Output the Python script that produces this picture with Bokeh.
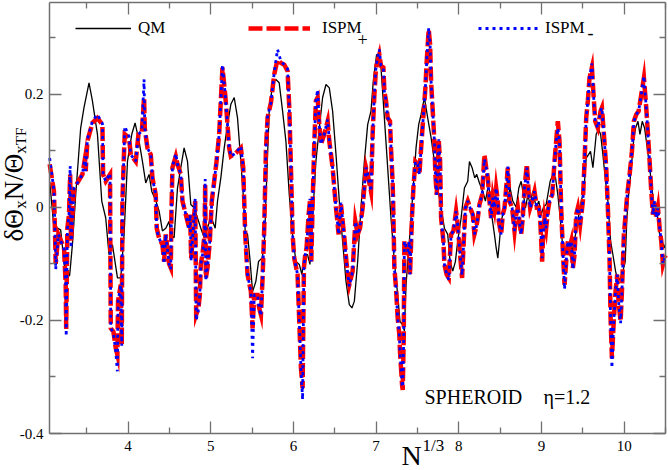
import math
from bokeh.plotting import figure
from bokeh.models import Range1d, LinearAxis, FixedTicker, Label, Legend, LegendItem
from bokeh.embed import file_html
from bokeh.resources import INLINE

# ---------------- data ----------------
qm_x = [
    3.052, 3.104, 3.145, 3.185, 3.225, 3.246, 3.294, 3.327, 3.367, 3.427,
    3.467, 3.528, 3.569, 3.630, 3.682, 3.730, 3.770, 3.811, 3.872, 3.912,
    3.952, 3.993, 4.045, 4.085, 4.133, 4.174, 4.214, 4.254, 4.287, 4.335,
    4.376, 4.416, 4.456, 4.497, 4.517, 4.557, 4.598, 4.638, 4.678, 4.719,
    4.759, 4.799, 4.840, 4.880, 4.921, 4.961, 5.001, 5.054, 5.082, 5.122,
    5.163, 5.203, 5.243, 5.284, 5.324, 5.364, 5.393, 5.417, 5.445, 5.473,
    5.506, 5.546, 5.578, 5.619, 5.647, 5.667, 5.707, 5.748, 5.788, 5.828,
    5.869, 5.909, 5.950, 5.990, 6.030, 6.071, 6.103, 6.131, 6.171, 6.200,
    6.232, 6.272, 6.313, 6.353, 6.394, 6.434, 6.474, 6.515, 6.555, 6.595,
    6.636, 6.676, 6.708, 6.737, 6.777, 6.817, 6.858, 6.898, 6.938, 6.966,
    7.006, 7.039, 7.059, 7.100, 7.140, 7.180, 7.221, 7.261, 7.289, 7.322,
    7.342, 7.362, 7.402, 7.443, 7.483, 7.515, 7.544, 7.584, 7.624, 7.665,
    7.705, 7.745, 7.786, 7.826, 7.866, 7.895, 7.927, 7.959, 7.987, 8.028,
    8.068, 8.108, 8.129, 8.161, 8.193, 8.217, 8.250, 8.290, 8.322, 8.351,
    8.371, 8.403, 8.431, 8.452, 8.472, 8.492, 8.512, 8.553, 8.593, 8.621,
    8.653, 8.694, 8.726, 8.754, 8.782, 8.807, 8.835, 8.863, 8.895, 8.936,
    8.968, 8.996, 9.025, 9.057, 9.077, 9.105, 9.138, 9.170, 9.198, 9.226,
    9.259, 9.291, 9.319, 9.348, 9.372, 9.412, 9.452, 9.481, 9.501, 9.521,
    9.541, 9.569, 9.593, 9.622, 9.642, 9.662, 9.690, 9.715, 9.743, 9.771,
    9.803, 9.836, 9.864, 9.896, 9.924, 9.957, 9.985, 10.013, 10.033, 10.054,
    10.086, 10.114, 10.138, 10.167, 10.191, 10.219, 10.247, 10.280, 10.308, 10.336,
    10.368, 10.401, 10.429, 10.457, 10.489, 10.500,
]
qm_y = [
    0.046, -0.037, -0.037, -0.040, -0.096, -0.128, -0.120, -0.066, 0.022, 0.140,
    0.176, 0.220, 0.188, 0.129, 0.011, -0.019, -0.084, -0.066, -0.125, -0.125,
    -0.048, 0.081, 0.129, 0.149, 0.117, 0.081, 0.043, 0.058, 0.028, 0.012,
    -0.007, -0.042, -0.037, -0.025, -0.048, -0.054, 0.034, 0.070, 0.105, 0.081,
    0.005, -0.001, -0.019, -0.037, -0.054, -0.037, -0.016, -0.037, 0.011, 0.052,
    0.105, 0.146, 0.182, 0.194, 0.158, 0.081, 0.022, -0.042, -0.048, -0.090,
    -0.149, -0.131, -0.096, -0.090, -0.072, 0.011, 0.170, 0.218, 0.226, 0.220,
    0.170, 0.117, 0.022, -0.048, -0.096, -0.101, -0.119, -0.084, -0.084, -0.101,
    -0.019, 0.081, 0.140, 0.194, 0.217, 0.211, 0.170, 0.093, 0.011, -0.060,
    -0.131, -0.172, -0.178, -0.166, -0.096, -0.001, 0.081, 0.146, 0.170, 0.223,
    0.270, 0.267, 0.247, 0.158, 0.070, -0.019, -0.096, -0.155, -0.202, -0.208,
    -0.219, -0.137, -0.060, 0.022, 0.105, 0.146, 0.164, 0.194, 0.158, 0.123,
    0.081, 0.034, -0.001, -0.037, -0.048, -0.096, -0.113, -0.096, -0.060, -0.019,
    0.034, 0.046, 0.081, 0.070, 0.052, 0.058, 0.043, 0.028, 0.011, 0.034,
    0.030, -0.019, -0.048, -0.072, -0.090, -0.060, -0.025, -0.001, 0.017, 0.034,
    0.011, 0.000, 0.034, 0.046, 0.022, -0.001, 0.022, 0.005, 0.028, 0.000,
    0.011, -0.013, 0.000, 0.005, 0.022, 0.046, 0.058, 0.052, 0.022, -0.019,
    -0.072, -0.084, -0.072, -0.060, -0.078, -0.048, -0.013, 0.011, 0.022, 0.046,
    0.087, 0.093, 0.099, 0.070, 0.099, 0.129, 0.138, 0.129, 0.093, 0.052,
    0.011, -0.060, -0.084, -0.113, -0.131, -0.125, -0.113, -0.096, -0.019, 0.022,
    0.070, 0.117, 0.140, 0.152, 0.129, 0.152, 0.140, 0.105, 0.070, 0.034,
    -0.007, -0.013, -0.048, -0.060, -0.072, -0.065,
]

ispm_x = [
    3.052, 3.104, 3.117, 3.125, 3.157, 3.226, 3.246, 3.252, 3.266, 3.286,
    3.300, 3.310, 3.347, 3.387, 3.448, 3.480, 3.488, 3.508, 3.569, 3.629,
    3.690, 3.698, 3.730, 3.782, 3.791, 3.823, 3.851, 3.871, 3.879, 3.912,
    3.924, 3.932, 3.952, 3.960, 4.012, 4.033, 4.093, 4.126, 4.166, 4.194,
    4.202, 4.234, 4.275, 4.295, 4.335, 4.347, 4.376, 4.416, 4.436, 4.456,
    4.497, 4.517, 4.525, 4.537, 4.577, 4.598, 4.638, 4.658, 4.699, 4.739,
    4.751, 4.763, 4.779, 4.812, 4.824, 4.852, 4.868, 4.880, 4.900, 4.925,
    4.933, 4.941, 4.961, 4.989, 5.013, 5.042, 5.070, 5.102, 5.122, 5.142,
    5.175, 5.191, 5.223, 5.243, 5.304, 5.364, 5.393, 5.417, 5.445, 5.486,
    5.506, 5.526, 5.566, 5.586, 5.607, 5.627, 5.647, 5.667, 5.687, 5.728,
    5.768, 5.808, 5.849, 5.889, 5.929, 5.950, 5.970, 5.990, 6.010, 6.050,
    6.071, 6.091, 6.111, 6.127, 6.143, 6.159, 6.184, 6.200, 6.216, 6.232,
    6.252, 6.272, 6.293, 6.313, 6.333, 6.373, 6.414, 6.434, 6.474, 6.515,
    6.547, 6.575, 6.616, 6.644, 6.676, 6.716, 6.749, 6.777, 6.805, 6.837,
    6.878, 6.898, 6.938, 6.958, 6.979, 6.999, 7.039, 7.059, 7.088, 7.100,
    7.120, 7.140, 7.168, 7.180, 7.201, 7.209, 7.221, 7.241, 7.261, 7.281,
    7.289, 7.314, 7.322, 7.334, 7.342, 7.382, 7.402, 7.410, 7.435, 7.451,
    7.475, 7.503, 7.524, 7.536, 7.564, 7.596, 7.612, 7.636, 7.653, 7.665,
    7.685, 7.705, 7.717, 7.733, 7.758, 7.774, 7.786, 7.814, 7.826, 7.854,
    7.879, 7.907, 7.935, 7.967, 7.987, 8.016, 8.040, 8.056, 8.080, 8.109,
    8.137, 8.169, 8.189, 8.209, 8.230, 8.250, 8.282, 8.310, 8.331, 8.351,
    8.371, 8.391, 8.411, 8.431, 8.452, 8.472, 8.484, 8.512, 8.532, 8.553,
    8.573, 8.593, 8.613, 8.645, 8.674, 8.694, 8.714, 8.734, 8.754, 8.774,
    8.795, 8.823, 8.847, 8.863, 8.887, 8.916, 8.944, 8.968, 8.984, 9.008,
    9.017, 9.037, 9.057, 9.077, 9.097, 9.130, 9.158, 9.178, 9.198, 9.218,
    9.238, 9.259, 9.279, 9.299, 9.319, 9.339, 9.360, 9.380, 9.400, 9.420,
    9.440, 9.468, 9.501, 9.521, 9.541, 9.561, 9.581, 9.610, 9.634, 9.650,
    9.682, 9.715, 9.731, 9.755, 9.783, 9.803, 9.824, 9.836, 9.852, 9.876,
    9.896, 9.916, 9.932, 9.957, 9.973, 9.997, 10.017, 10.037, 10.066, 10.094,
    10.118, 10.146, 10.175, 10.207, 10.239, 10.267, 10.288, 10.308, 10.328, 10.348,
    10.368, 10.389, 10.409, 10.429, 10.449, 10.469, 10.489, 10.500,
]
ispm_plus_y = [
    0.076, 0.028, -0.048, -0.100, -0.048, -0.072, -0.137, -0.215, -0.037, -0.013,
    0.058, -0.060, 0.034, 0.043, 0.058, 0.087, 0.064, 0.117, 0.149, 0.158,
    0.146, 0.058, 0.046, 0.058, -0.214, -0.220, -0.249, -0.261, -0.166, -0.137,
    -0.243, 0.011, 0.100, 0.129, 0.123, 0.093, 0.081, 0.129, 0.132, 0.194,
    0.140, 0.105, 0.093, 0.052, 0.022, -0.037, -0.055, -0.066, -0.096, -0.048,
    -0.100, -0.107, -0.007, 0.070, 0.090, 0.076, 0.058, 0.011, -0.013, -0.037,
    -0.013, -0.090, -0.060, 0.011, -0.190, -0.178, -0.155, -0.100, -0.084, -0.048,
    0.040, -0.125, -0.107, -0.060, 0.011, 0.046, 0.081, 0.129, 0.188, 0.247,
    0.199, 0.170, 0.105, 0.090, 0.096, 0.105, 0.070, -0.048, -0.119, -0.149,
    -0.214, -0.155, -0.155, -0.178, -0.190, -0.125, -0.037, 0.099, 0.158, 0.185,
    0.235, 0.261, 0.255, 0.252, 0.241, 0.176, 0.070, -0.048, -0.090, -0.119,
    -0.202, -0.284, -0.320, -0.107, -0.084, -0.072, -0.013, 0.011, -0.096, 0.005,
    0.111, 0.188, 0.194, 0.146, 0.111, 0.129, 0.152, 0.117, 0.070, -0.001,
    -0.048, 0.005, -0.054, -0.101, -0.137, -0.113, -0.025, -0.048, -0.037, -0.001,
    0.070, 0.058, 0.028, 0.129, 0.199, 0.247, 0.270, 0.250, 0.247, 0.205,
    0.188, 0.158, 0.152, 0.105, 0.040, -0.013, -0.107, -0.143, -0.196, -0.225,
    -0.255, -0.314, -0.323, -0.231, -0.060, -0.078, -0.060, -0.119, -0.013, 0.034,
    0.081, 0.076, 0.058, 0.087, 0.146, 0.211, 0.258, 0.314, 0.288, 0.223,
    0.170, 0.117, 0.058, 0.022, 0.117, 0.081, -0.019, -0.060, -0.101, -0.119,
    -0.125, -0.048, -0.042, -0.007, -0.031, -0.084, -0.125, -0.072, -0.001, 0.011,
    -0.001, -0.013, -0.048, -0.037, -0.019, 0.005, 0.022, 0.093, 0.070, 0.052,
    0.011, -0.019, 0.017, -0.001, 0.034, 0.011, -0.025, -0.048, -0.013, -0.001,
    0.034, 0.070, 0.011, -0.001, -0.042, -0.013, -0.001, -0.025, -0.048, -0.019,
    0.034, 0.076, 0.022, -0.001, 0.011, 0.028, -0.001, -0.001, -0.019, -0.096,
    -0.060, -0.019, -0.037, -0.007, 0.011, 0.022, 0.081, 0.117, 0.152, 0.117,
    -0.001, -0.078, -0.137, -0.096, -0.060, -0.072, -0.060, -0.107, -0.084, -0.013,
    -0.001, -0.031, 0.011, 0.081, 0.158, 0.188, 0.229, 0.247, 0.188, 0.152,
    0.140, 0.170, 0.176, 0.129, 0.070, -0.001, -0.096, -0.196, -0.267, -0.196,
    -0.149, -0.119, -0.166, -0.202, -0.149, -0.048, -0.013, 0.022, 0.058, 0.099,
    0.152, 0.164, 0.170, 0.199, 0.229, 0.176, 0.129, 0.081, 0.028, -0.013,
    0.011, -0.019, -0.001, -0.037, -0.060, -0.101, -0.090, -0.085,
]
ispm_minus_y = [
    0.087, 0.030, -0.050, -0.110, -0.048, -0.075, -0.140, -0.228, -0.040, -0.013,
    0.073, -0.072, 0.034, 0.043, 0.058, 0.090, 0.064, 0.120, 0.152, 0.164,
    0.148, 0.058, 0.046, 0.060, -0.214, -0.222, -0.255, -0.290, -0.166, -0.137,
    -0.245, 0.011, 0.100, 0.143, 0.125, 0.093, 0.081, 0.129, 0.135, 0.226,
    0.140, 0.105, 0.093, 0.052, 0.022, -0.040, -0.055, -0.068, -0.100, -0.048,
    -0.100, -0.110, -0.007, 0.072, 0.095, 0.076, 0.058, 0.011, -0.013, -0.040,
    -0.013, -0.095, -0.060, 0.015, -0.200, -0.180, -0.155, -0.100, -0.084, -0.048,
    0.050, -0.130, -0.107, -0.060, 0.011, 0.046, 0.081, 0.129, 0.190, 0.252,
    0.199, 0.170, 0.105, 0.090, 0.096, 0.108, 0.070, -0.048, -0.119, -0.150,
    -0.267, -0.155, -0.155, -0.178, -0.192, -0.125, -0.037, 0.099, 0.160, 0.185,
    0.238, 0.279, 0.258, 0.252, 0.245, 0.176, 0.070, -0.048, -0.090, -0.119,
    -0.202, -0.284, -0.340, -0.107, -0.084, -0.072, -0.013, 0.015, -0.096, 0.005,
    0.111, 0.188, 0.208, 0.146, 0.111, 0.129, 0.155, 0.117, 0.070, -0.001,
    -0.048, 0.008, -0.054, -0.101, -0.140, -0.113, -0.025, -0.048, -0.037, -0.001,
    0.070, 0.058, 0.028, 0.129, 0.199, 0.250, 0.279, 0.250, 0.247, 0.205,
    0.188, 0.158, 0.152, 0.105, 0.040, -0.013, -0.107, -0.143, -0.196, -0.225,
    -0.255, -0.314, -0.318, -0.231, -0.060, -0.078, -0.060, -0.119, -0.013, 0.034,
    0.081, 0.076, 0.058, 0.087, 0.146, 0.211, 0.258, 0.317, 0.288, 0.223,
    0.170, 0.117, 0.058, 0.022, 0.120, 0.081, -0.019, -0.060, -0.101, -0.119,
    -0.128, -0.048, -0.042, -0.007, -0.031, -0.084, -0.120, -0.072, -0.001, 0.011,
    -0.001, -0.013, -0.048, -0.037, -0.019, 0.005, 0.022, 0.085, 0.070, 0.052,
    0.011, -0.019, 0.017, -0.001, 0.034, 0.011, -0.025, -0.048, -0.013, -0.001,
    0.034, 0.072, 0.011, -0.001, -0.042, -0.013, -0.001, -0.025, -0.048, -0.019,
    0.034, 0.070, 0.022, -0.001, 0.011, 0.028, -0.001, -0.001, -0.019, -0.090,
    -0.060, -0.019, -0.037, -0.007, 0.011, 0.022, 0.081, 0.117, 0.140, 0.117,
    -0.001, -0.078, -0.145, -0.096, -0.060, -0.072, -0.060, -0.110, -0.084, -0.013,
    -0.001, -0.031, 0.011, 0.081, 0.158, 0.188, 0.229, 0.254, 0.188, 0.152,
    0.140, 0.170, 0.176, 0.129, 0.070, -0.001, -0.096, -0.196, -0.284, -0.196,
    -0.149, -0.119, -0.166, -0.205, -0.149, -0.048, -0.013, 0.022, 0.058, 0.099,
    0.152, 0.164, 0.170, 0.199, 0.232, 0.176, 0.129, 0.081, 0.028, -0.013,
    0.011, -0.019, -0.001, -0.037, -0.060, -0.101, -0.090, -0.085,
]
assert len(qm_x) == len(qm_y)
assert len(ispm_x) == len(ispm_plus_y) == len(ispm_minus_y)

x_lo, x_hi = 3.05, 10.5          # plotted box, x
y_lo, y_hi = -0.4, 0.362         # plotted box, y
x_major = [4, 5, 6, 7, 8, 9, 10]
x_minor = [3.5, 4.5, 5.5, 6.5, 7.5, 8.5, 9.5, 10.5]
y_major = [-0.4, -0.2, 0, 0.2]
y_minor = [-0.3, -0.1, 0.1, 0.3]
y_tick_text = {-0.4: "-0.4", -0.2: "-0.2", 0: "0", 0.2: "0.2"}

FONT = "Liberation Serif"
AXIS_COLOR = "#707070"
W, H = 668, 470
BOX_L, BOX_R, BOX_T, BOX_B = 49, 665, 2, 433   # box edges in canvas pixels

# the frame fills the whole canvas; the box is placed with fixed-location axes
sx = (x_hi - x_lo) / (BOX_R - BOX_L)
sy = (y_hi - y_lo) / (BOX_B - BOX_T)
x_range = Range1d(x_lo - BOX_L * sx, x_hi + (W - BOX_R) * sx)
y_range = Range1d(y_lo - (H - BOX_B) * sy, y_hi + BOX_T * sy)

p = figure(width=W, height=H, x_range=x_range, y_range=y_range,
           output_backend="svg", toolbar_location=None, min_border=0)
p.background_fill_color = "white"
p.border_fill_color = "white"
p.outline_line_color = None
p.xgrid.visible = False
p.ygrid.visible = False


def style_axis(ax, ticks, minor, bounds, loc, show_labels):
    ax.ticker = FixedTicker(ticks=ticks, minor_ticks=minor)
    ax.bounds = bounds
    ax.fixed_location = loc
    ax.axis_line_color = AXIS_COLOR
    ax.axis_line_width = 1.5
    ax.major_tick_line_color = AXIS_COLOR
    ax.minor_tick_line_color = AXIS_COLOR
    ax.major_tick_line_width = 1.3
    ax.minor_tick_line_width = 1.3
    ax.major_tick_in = 12
    ax.major_tick_out = 0
    ax.minor_tick_in = 6
    ax.minor_tick_out = 0
    if show_labels:
        ax.major_label_text_font = FONT
        ax.major_label_text_font_size = "15px"
        ax.major_label_text_color = "black"
        ax.major_label_standoff = 7
    else:
        ax.major_label_text_font_size = "0px"
        ax.major_label_standoff = 0
        ax.major_label_text_alpha = 0


style_axis(p.xaxis[0], x_major, x_minor, (x_lo, x_hi), y_lo, True)
style_axis(p.yaxis[0], y_major, y_minor, (y_lo, y_hi), x_lo, True)
p.yaxis[0].major_label_overrides = y_tick_text
p.yaxis[0].major_label_standoff = 6

top_ax = LinearAxis()
style_axis(top_ax, x_major, x_minor, (x_lo, x_hi), y_hi, False)
p.add_layout(top_ax, "above")
right_ax = LinearAxis()
style_axis(right_ax, y_major, y_minor, (y_lo, y_hi), x_hi, False)
p.add_layout(right_ax, "right")

# ---------------- curves ----------------
r_qm = p.line(qm_x, qm_y, line_color="black", line_width=1.3)
r_plus = p.line(ispm_x, ispm_plus_y, line_color="#ff0000", line_width=4.5, line_dash="14 4",
                line_join="miter")
r_minus = p.line(ispm_x, ispm_minus_y, line_color="#0000ff", line_width=2.8, line_dash="3 4")


# ---------------- legend (three separate entries) ----------------
def add_legend(r, text, loc, gw, standoff):
    lg = Legend(items=[LegendItem(label=text, renderers=[r])], location=loc,
                orientation="horizontal", glyph_width=gw, glyph_height=20, label_height=20,
                label_standoff=standoff, padding=0, margin=0, spacing=0,
                border_line_color=None, background_fill_alpha=0,
                label_text_font=FONT, label_text_font_size="17px", label_text_color="black")
    p.add_layout(lg)


add_legend(r_qm, "QM", (75, 432), 56, 7)
add_legend(r_plus, "ISPM", (248, 432), 62, 12)
add_legend(r_minus, "ISPM", (478, 432), 60, 7)


def add_label(text, x, y, size, angle=0.0):
    # x, y: canvas pixels from the bottom-left corner, y = vertical middle of the text
    p.add_layout(Label(x=x, y=y, x_units="screen", y_units="screen", text=text,
                       text_font=FONT, text_font_size=f"{size}px", angle=angle,
                       text_align="left", text_baseline="middle", text_color="black"))


# legend subscripts
add_label("+", 357, 431, 18)
add_label("-", 587, 438, 18)

# annotation
add_label("SPHEROID", 424, 73.5, 20)
add_label("η=1.2", 543, 73.5, 20)

# x axis title N^(1/3)
add_label("N", 401, 15, 28)
add_label("1/3", 422, 25.5, 17)

# y axis title (rotated, built from pieces)
R = math.pi / 2
add_label("δΘ", 13, 229, 27, R)
add_label("x", 20, 261.8, 17, R)
add_label("N/Θ", 13, 270.3, 27, R)
add_label("x", 20, 316.8, 17, R)
add_label("TF", 20, 325.3, 15, R)

open("out.html", "w").write(file_html(p, INLINE))
